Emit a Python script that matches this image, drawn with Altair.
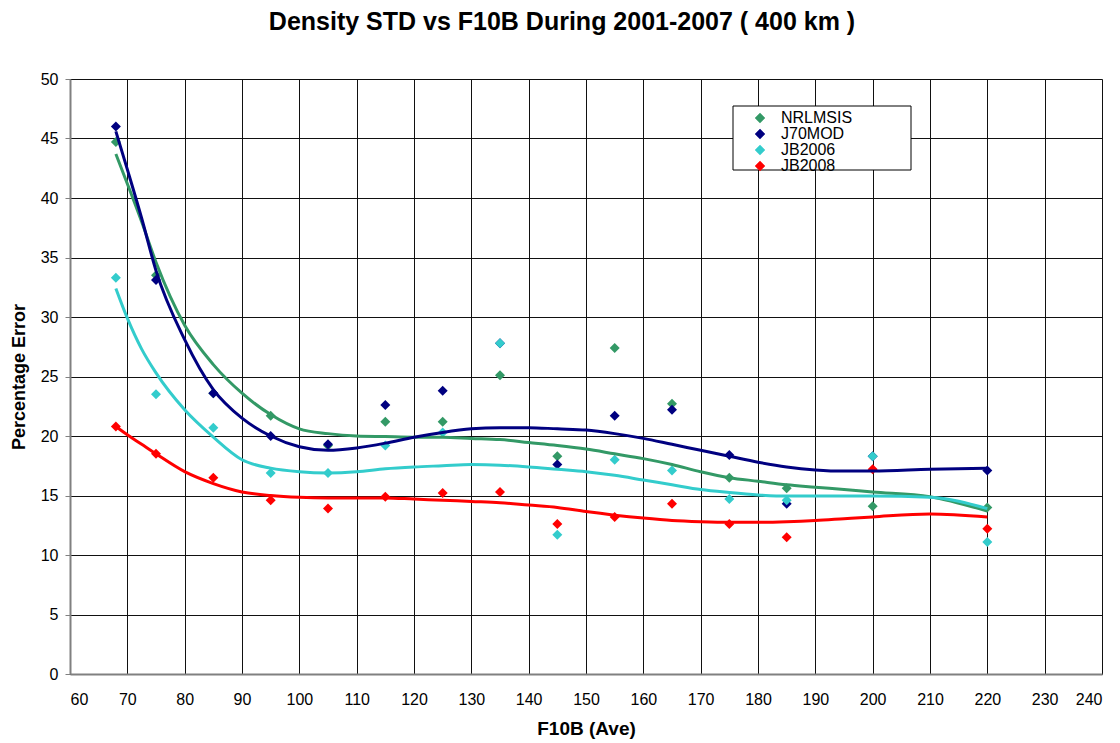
import altair as alt
import pandas as pd

# Scatter data (F10B average bins, percentage error)
f10b = [68, 75, 85, 95, 105, 115, 125, 135, 145, 155, 165, 175, 185, 200, 220]
models = ["NRLMSIS", "J70MOD", "JB2006", "JB2008"]
colors = ["#339966", "#000080", "#33CCCC", "#FF0000"]

nrlmsis = [44.7, 33.5, 23.6, 21.7, 19.2, 21.2, 21.2, 25.1, 18.3, 27.4, 22.7, 16.5, 15.6, 14.1, 14.0]
j70mod = [46.0, 33.1, 23.6, 20.0, 19.3, 22.6, 23.8, 27.8, 17.6, 21.7, 22.2, 18.4, 14.3, 18.3, 17.1]
jb2006 = [33.3, 23.5, 20.7, 16.9, 16.9, 19.2, 20.3, 27.8, 11.7, 18.0, 17.1, 14.7, 14.6, 18.3, 11.1]
jb2008 = [20.8, 18.5, 16.5, 14.6, 13.9, 14.9, 15.2, 15.3, 12.6, 13.2, 14.3, 12.6, 11.5, 17.2, 12.2]

# Trend curves
fit_x = [68, 70, 72.5, 75, 80, 85, 90, 95, 100, 105, 110, 115, 120, 125, 130, 135,
         140, 145, 150, 155, 160, 165, 170, 175, 180, 185, 190, 195, 200, 210, 220]
fit_nrlmsis = [43.7, 41.2, 38.0, 34.6, 29.3, 26.0, 23.6, 21.8, 20.6, 20.2, 20.0, 19.95, 19.9, 19.9, 19.8, 19.7,
               19.45, 19.2, 18.9, 18.5, 18.1, 17.6, 17.0, 16.5, 16.2, 15.9, 15.7, 15.5, 15.3, 14.9, 13.7]
fit_j70mod = [45.6, 42.4, 38.3, 33.9, 28.1, 23.9, 21.5, 20.0, 19.1, 18.8, 19.0, 19.4, 19.9, 20.3, 20.6, 20.7,
              20.7, 20.6, 20.5, 20.2, 19.8, 19.3, 18.8, 18.3, 17.8, 17.4, 17.15, 17.05, 17.05, 17.2, 17.3]
fit_jb2006 = [32.4, 29.9, 27.3, 25.3, 22.2, 19.9, 18.0, 17.3, 17.0, 16.9, 17.0, 17.25, 17.4, 17.5, 17.6, 17.55,
              17.4, 17.2, 17.0, 16.7, 16.3, 15.9, 15.5, 15.25, 15.05, 14.95, 14.95, 14.95, 14.95, 14.85, 13.9]
fit_jb2008 = [20.8, 20.1, 19.3, 18.5, 17.0, 16.0, 15.3, 15.0, 14.85, 14.8, 14.8, 14.8, 14.7, 14.6, 14.5, 14.4,
              14.2, 14.0, 13.65, 13.35, 13.1, 12.9, 12.8, 12.75, 12.75, 12.8, 12.9, 13.05, 13.2, 13.45, 13.2]

series = {"NRLMSIS": nrlmsis, "J70MOD": j70mod, "JB2006": jb2006, "JB2008": jb2008}
fits = {"NRLMSIS": fit_nrlmsis, "J70MOD": fit_j70mod, "JB2006": fit_jb2006, "JB2008": fit_jb2008}

rows = []
for i, m in enumerate(models):
    for x, v in zip(f10b, series[m]):
        rows.append({"Model": m, "F10B": x, "Value": v, "order": i})
df = pd.DataFrame(rows)

frows = []
for m in models:
    for x, v in zip(fit_x, fits[m]):
        frows.append({"Model": m, "F10B": x, "Value": v})
dfit = pd.DataFrame(frows)

FONT = "Liberation Sans"

xenc = alt.X(
    "F10B:Q",
    scale=alt.Scale(domain=[60, 240], nice=False, zero=False),
    axis=alt.Axis(
        title="F10B (Ave)",
        values=list(range(60, 241, 10)),
        grid=True,
        gridColor="#111111",
        gridWidth=1,
        ticks=False,
        labelPadding=17,
        labelFontSize=16,
        labelFont=FONT,
        labelColor="#000000",
        domainColor="#808080",
        domainWidth=2,
        titleFont=FONT,
        titleFontSize=19,
        titleFontWeight="bold",
        titleColor="#000000",
        titlePadding=12,
    ),
)
yenc = alt.Y(
    "Value:Q",
    scale=alt.Scale(domain=[0, 50], nice=False),
    axis=alt.Axis(
        title="Percentage Error",
        values=list(range(0, 51, 5)),
        grid=True,
        gridColor="#111111",
        gridWidth=1,
        ticks=True,
        tickSize=5,
        tickColor="#808080",
        labelPadding=7,
        labelFontSize=16,
        labelFont=FONT,
        labelColor="#000000",
        domainColor="#808080",
        domainWidth=2,
        titleFont=FONT,
        titleFontSize=18,
        titleFontWeight="bold",
        titleColor="#000000",
        titlePadding=12,
    ),
)
cscale = alt.Scale(domain=models, range=colors)

legend_box = alt.Chart(pd.DataFrame({"a": [0]})).mark_rect(
    fill="white", stroke="black", strokeWidth=1
).encode(x=alt.value(663), x2=alt.value(841), y=alt.value(27), y2=alt.value(91))

points = (
    alt.Chart(df)
    .mark_point(shape="diamond", filled=True, size=100, opacity=1)
    .encode(
        x=xenc,
        y=yenc,
        color=alt.Color(
            "Model:N",
            scale=cscale,
            legend=alt.Legend(
                title=None,
                orient="none",
                legendX=672,
                legendY=32,
                symbolType="diamond",
                symbolSize=70,
                labelFont=FONT,
                labelFontSize=16,
                labelColor="#000000",
                labelOffset=13,
                rowPadding=0,
                clipHeight=14,
                padding=0,
                symbolOffset=10,
            ),
        ),
        order="order:Q",
    )
)

lines = (
    alt.Chart(dfit)
    .mark_line(strokeWidth=3, interpolate="monotone")
    .encode(x=xenc, y=yenc, color=alt.Color("Model:N", scale=cscale, legend=None), detail="Model:N")
)

chart = (
    alt.layer(points, lines, legend_box)
    .properties(
        width=1032,
        height=595,
        title=alt.TitleParams(
            "Density STD vs F10B During 2001-2007 ( 400 km )",
            font=FONT,
            fontSize=25,
            fontWeight="bold",
            color="#000000",
            anchor="middle",
            dx=-24,
            offset=36,
        ),
        autosize=alt.AutoSizeParams(type="none"),
        padding={"left": 62, "top": 71, "right": 10, "bottom": 80},
    )
    .configure_view(stroke=None)
    .configure(background="white")
)

chart.save("out.html", embed_options={"renderer": "svg", "actions": False})
